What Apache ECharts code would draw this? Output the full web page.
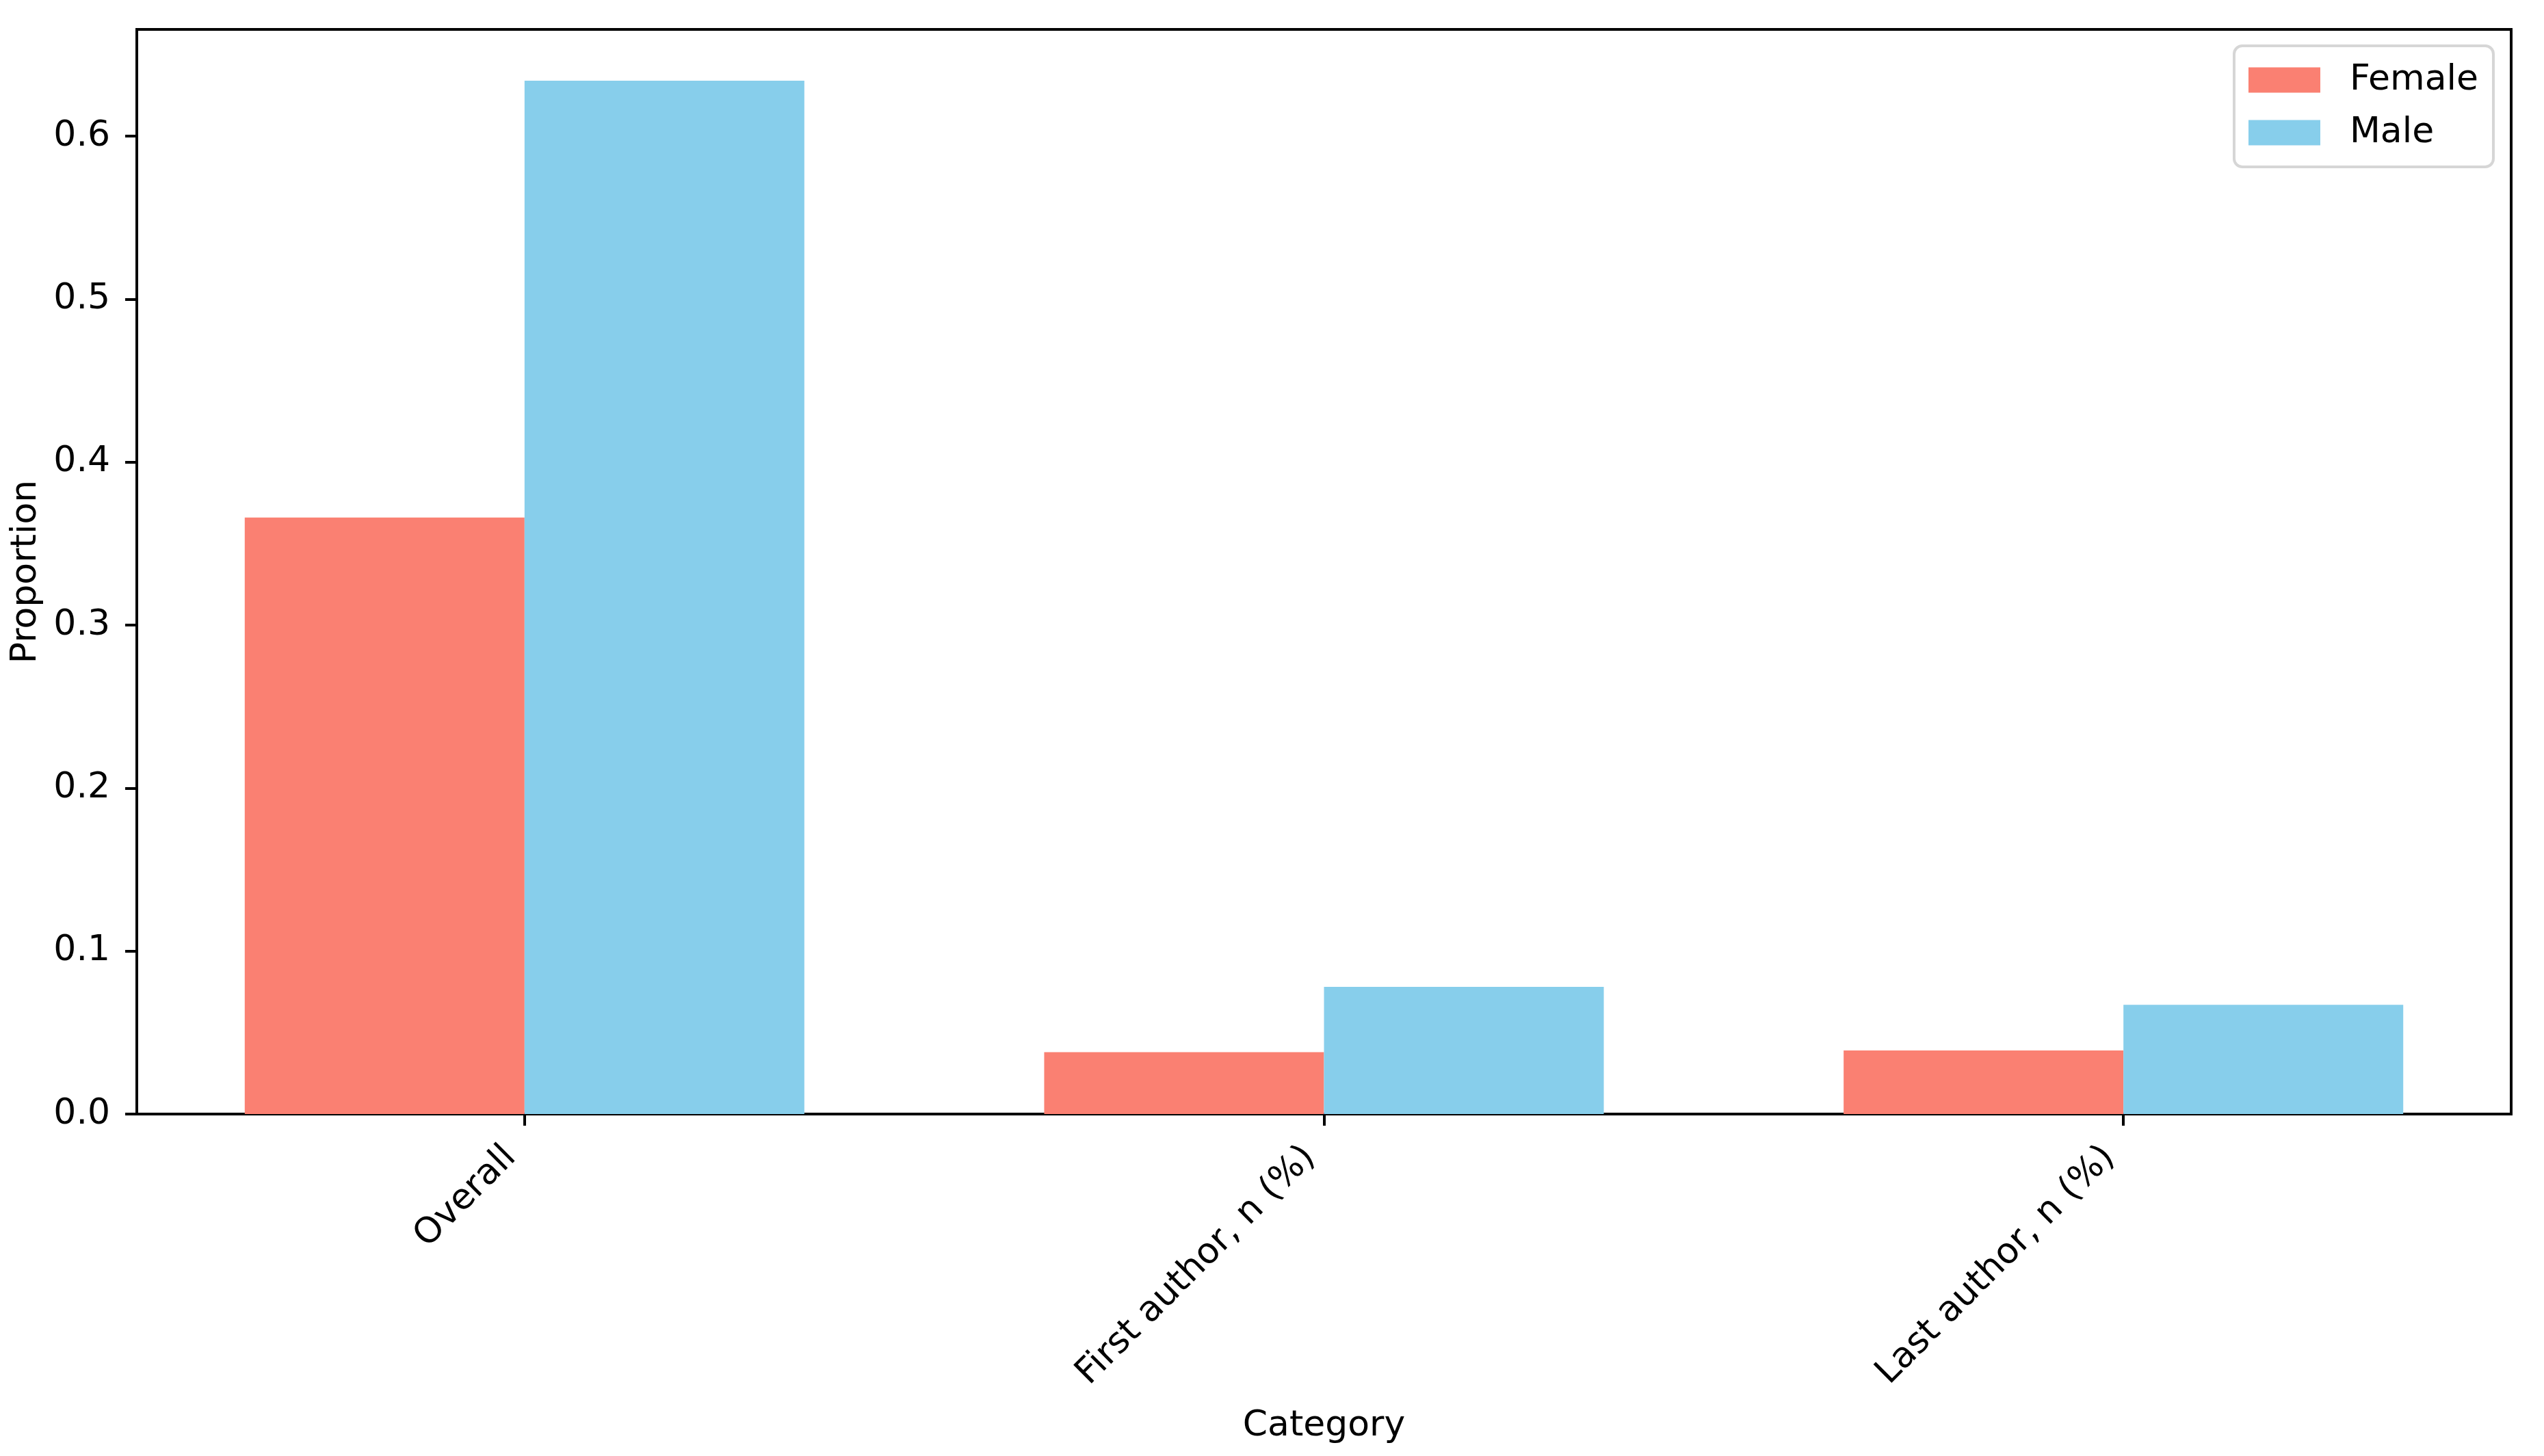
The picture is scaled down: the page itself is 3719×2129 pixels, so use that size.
<!DOCTYPE html>
<html lang="en">
<head>
  <meta charset="UTF-8">
  <title>Proportion by category</title>
  <script src="https://cdn.jsdelivr.net/npm/echarts@6/dist/echarts.min.js"></script>
  <style>
    html, body { margin: 0; padding: 0; background: #fff; }
  </style>
</head>
<body>
<div id="main" style="width: 3719px;height:2129px;"></div>
<script type="text/javascript">
    var categories = ['Overall', 'First author, n (%)', 'Last author, n (%)'];
    var femaleValues = [0.366, 0.038, 0.039];
    var maleValues = [0.634, 0.078, 0.067];
    var yTickValues = [0, 0.1, 0.2, 0.3, 0.4, 0.5, 0.6];
    var categoryPositions = [0, 1, 2];

    var font = 'DejaVu Sans';
    var fontSize = 52;
    var myChart = echarts.init(document.getElementById('main'));

    // x axis is numeric so the padding around bars matches the original (-0.485 .. 2.485)
    function toPoints(values) {
        return values.map(function (v, i) { return [categoryPositions[i], v]; });
    }

    var option = {
        animation: false,
        backgroundColor: '#fff',
        textStyle: { fontFamily: font },
        grid: {
            left: 200,
            right: 48,
            top: 43,
            bottom: 500,
            show: true,
            borderColor: '#000',
            borderWidth: 4,
            containLabel: false
        },
        legend: {
            orient: 'vertical',
            right: 74,
            top: 67,
            icon: 'rect',
            itemWidth: 105,
            itemHeight: 37,
            itemGap: 25,
            selectedMode: false,
            padding: [24, 22, 24, 21],
            backgroundColor: '#fff',
            borderColor: '#d6d6d6',
            borderWidth: 4,
            borderRadius: 12,
            textStyle: {
                fontFamily: font,
                fontSize: fontSize,
                color: '#000',
                lineHeight: 37,
                padding: [0, 0, 0, 38]
            },
            data: ['Female', 'Male']
        },
        xAxis: {
            type: 'value',
            min: -0.485,
            max: 2.485,
            name: 'Category',
            nameLocation: 'middle',
            nameGap: 430,
            nameTextStyle: { fontFamily: font, fontSize: fontSize, color: '#000' },
            splitLine: { show: false },
            axisLine: { show: true, onZero: false, lineStyle: { color: '#000', width: 4 } },
            axisTick: {
                show: true,
                customValues: categoryPositions,
                length: 17,
                lineStyle: { color: '#000', width: 4 }
            },
            axisLabel: {
                customValues: categoryPositions,
                rotate: 45,
                margin: 35,
                padding: [0, 29, 0, 0],
                fontFamily: font,
                fontSize: fontSize,
                color: '#000',
                formatter: function (v) { return categories[Math.round(v)]; }
            }
        },
        yAxis: {
            type: 'value',
            min: 0,
            max: 0.6655,
            name: 'Proportion',
            nameLocation: 'middle',
            nameGap: 136,
            nameTextStyle: { fontFamily: font, fontSize: fontSize, color: '#000' },
            splitLine: { show: false },
            axisLine: { show: true, onZero: false, lineStyle: { color: '#000', width: 4 } },
            axisTick: {
                show: true,
                customValues: yTickValues,
                length: 17,
                lineStyle: { color: '#000', width: 4 }
            },
            axisLabel: {
                customValues: yTickValues,
                margin: 39,
                fontFamily: font,
                fontSize: fontSize,
                color: '#000',
                formatter: function (v) { return v.toFixed(1); }
            }
        },
        series: [{
            name: 'Female',
            type: 'bar',
            barWidth: '35%',
            barGap: '0%',
            itemStyle: { color: '#FA8072' },
            data: toPoints(femaleValues)
        }, {
            name: 'Male',
            type: 'bar',
            barWidth: '35%',
            barGap: '0%',
            itemStyle: { color: '#87CEEB' },
            data: toPoints(maleValues)
        }]
    };

    myChart.setOption(option);
</script>
</body>
</html>
